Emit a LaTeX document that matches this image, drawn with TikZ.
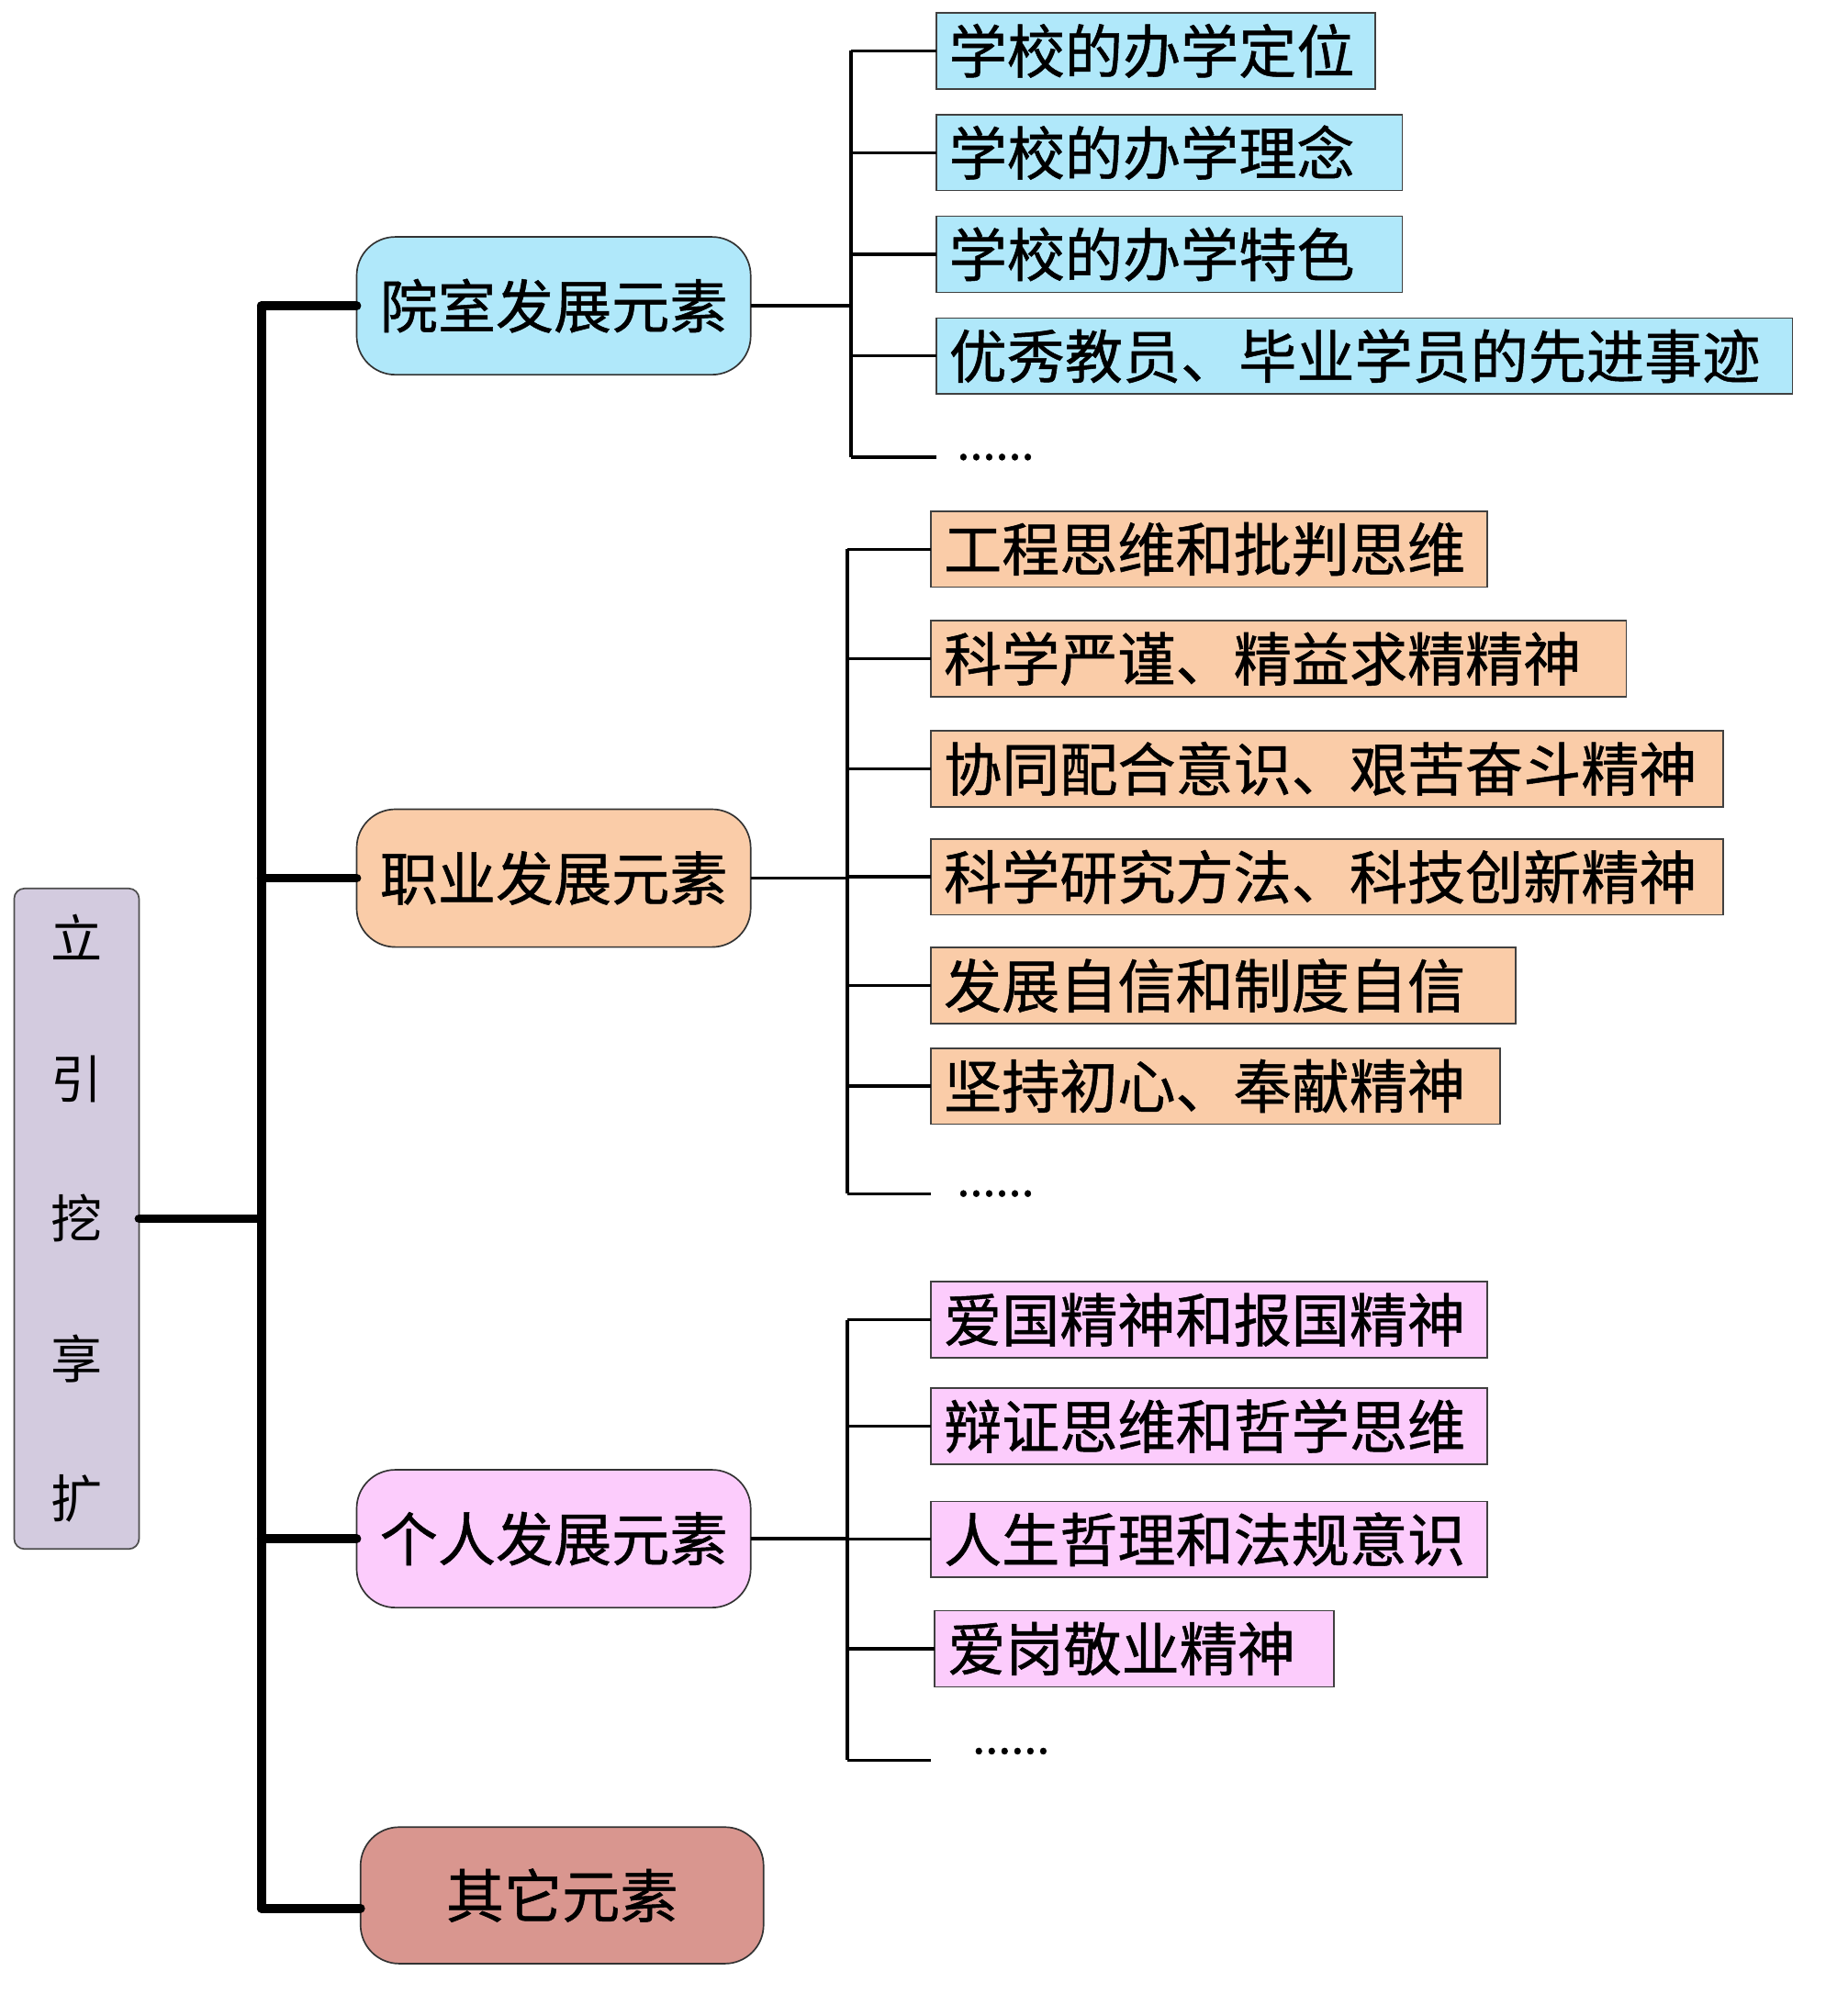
\documentclass[tikz,border=0pt]{standalone}
\usepackage{fontspec}
\newfontfamily\cjk[FakeBold=0.8]{Noto Sans CJK SC}
\newfontfamily\cjkr{Noto Sans CJK SC}
\definecolor{cyanfill}{RGB}{176,232,250}
\definecolor{peachfill}{RGB}{250,204,168}
\definecolor{pinkfill}{RGB}{252,204,252}
\definecolor{otherfill}{RGB}{217,150,143}
\definecolor{lavfill}{RGB}{211,203,223}
\begin{document}
\begin{tikzpicture}[x=1pt,y=-1pt,
  leafbox/.style={draw=black!75, line width=1.2pt, anchor=west, inner xsep=10pt, inner ysep=0pt,
    minimum height=59pt, align=left, outer sep=0pt, font=\cjk\fontsize{45}{50}\selectfont},
  topbox/.style={draw=black!80, line width=1.2pt, rounded corners=30pt, minimum width=306pt,
    minimum height=107pt, inner sep=0pt, outer sep=0pt, font=\cjk\fontsize{45}{50}\selectfont},
  thickline/.style={line width=7pt, line cap=round, line join=round},
  thinline/.style={line width=2.4pt},
  dotstext/.style={anchor=base west, inner sep=0pt, font=\cjk\fontsize{36}{40}\selectfont}]
\useasboundingbox (0,0) rectangle (1426,1565.7);

% root
\node[draw=black!70, line width=1.2pt, fill=lavfill, rounded corners=8pt, minimum width=97pt,
  minimum height=513pt, inner sep=0pt, outer sep=0pt, align=center,
  font=\cjkr\fontsize{40}{108.7}\selectfont] (root) at (59.5,946.5) {立\\引\\挖\\享\\扩};

% top-level boxes
\node[topbox, fill=cyanfill] (g1) at (430,237.5) {院室发展元素};
\node[topbox, fill=peachfill] (g2) at (430,682) {职业发展元素};
\node[topbox, fill=pinkfill] (g3) at (430,1195) {个人发展元素};
\node[topbox, fill=otherfill, minimum width=313pt, minimum height=106pt] (g4) at (436.5,1472) {其它元素};

% trunk
\coordinate (trtop) at (203,238);
\coordinate (trbot) at (203,1482);
\draw[thickline] (trtop) -- (trbot);
\draw[thickline] (root.east) -- (root.east -| trtop);
\draw[thickline] (g1.west -| trtop) -- (g1.west);
\draw[thickline] (g2.west -| trtop) -- (g2.west);
\draw[thickline] (g3.west -| trtop) -- (g3.west);
\draw[thickline] (trbot) -- (g4.west |- trbot);

% group 1 leaves
\node[leafbox, fill=cyanfill, text width=321pt] (a1) at (727,39.5) {学校的办学定位};
\node[leafbox, fill=cyanfill, text width=342pt] (a2) at (727,118.5) {学校的办学理念};
\node[leafbox, fill=cyanfill, text width=342pt] (a3) at (727,197.5) {学校的办学特色};
\node[leafbox, fill=cyanfill, text width=645pt] (a4) at (727,276.5) {优秀教员、毕业学员的先进事迹};
\coordinate (a5) at (727,355);
\node[dotstext] (d1) at (743,357) {......};
\coordinate (v1) at (661,0);
\draw[thinline] (g1.east) -- (g1.east -| v1);
\draw[thinline] (a1.west -| v1) -- (a5 -| v1);
\foreach \n in {a1,a2,a3,a4,a5} \draw[thinline] (\n.west -| v1) -- (\n.west);

% group 2 leaves
\node[leafbox, fill=peachfill, text width=412pt] (b1) at (723,426.5) {工程思维和批判思维};
\node[leafbox, fill=peachfill, text width=520pt] (b2) at (723,511.5) {科学严谨、精益求精精神};
\node[leafbox, fill=peachfill, text width=595pt] (b3) at (723,597) {协同配合意识、艰苦奋斗精神};
\node[leafbox, fill=peachfill, text width=595pt] (b4) at (723,681) {科学研究方法、科技创新精神};
\node[leafbox, fill=peachfill, text width=434pt] (b5) at (723,765.5) {发展自信和制度自信};
\node[leafbox, fill=peachfill, text width=422pt] (b6) at (723,843.5) {坚持初心、奉献精神};
\coordinate (b7) at (723,927);
\node[dotstext] (d2) at (743,929) {......};
\coordinate (v2) at (658,0);
\draw[thinline] (g2.east) -- (g2.east -| v2);
\draw[thinline] (b1.west -| v2) -- (b7 -| v2);
\foreach \n in {b1,b2,b3,b4,b5,b6,b7} \draw[thinline] (\n.west -| v2) -- (\n.west);

% group 3 leaves
\node[leafbox, fill=pinkfill, text width=412pt] (c1) at (723,1025) {爱国精神和报国精神};
\node[leafbox, fill=pinkfill, text width=412pt] (c2) at (723,1107.5) {辩证思维和哲学思维};
\node[leafbox, fill=pinkfill, text width=412pt] (c3) at (723,1195.5) {人生哲理和法规意识};
\node[leafbox, fill=pinkfill, text width=290pt] (c4) at (726,1280.5) {爱岗敬业精神};
\coordinate (c5) at (723,1367);
\node[dotstext] (d3) at (755,1362) {......};
\coordinate (v3) at (658,0);
\draw[thinline] (g3.east) -- (g3.east -| v3);
\draw[thinline] (c1.west -| v3) -- (c5 -| v3);
\foreach \n in {c1,c2,c3,c4,c5} \draw[thinline] (\n.west -| v3) -- (\n.west);
\end{tikzpicture}
\end{document}
